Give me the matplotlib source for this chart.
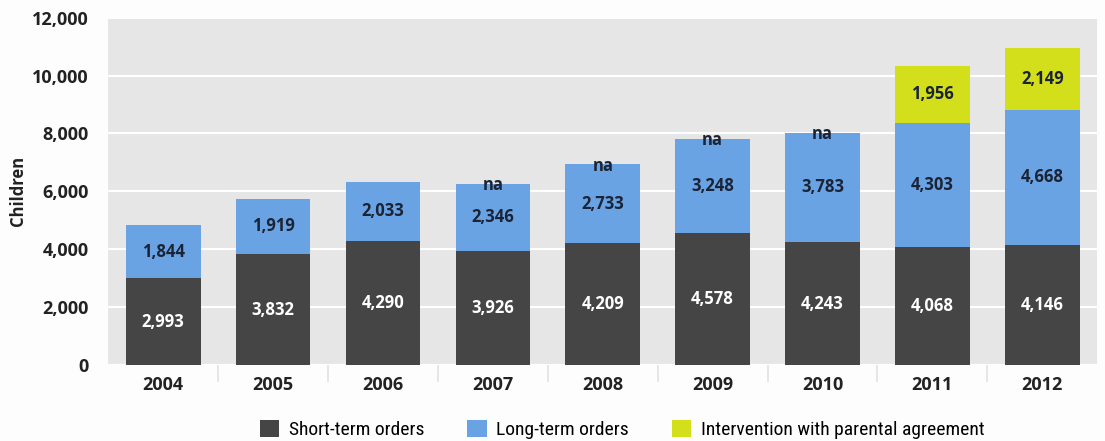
import numpy as np
import matplotlib.pyplot as plt
from matplotlib.ticker import FuncFormatter, FixedLocator

years = ['2004', '2005', '2006', '2007', '2008', '2009', '2010', '2011', '2012']
short_term = [2993, 3832, 4290, 3926, 4209, 4578, 4243, 4068, 4146]
long_term = [1844, 1919, 2033, 2346, 2733, 3248, 3783, 4303, 4668]
# intervention with parental agreement: not available before 2011
parental = [None, None, None, None, None, None, None, 1956, 2149]
na_years = ['2007', '2008', '2009', '2010']

c_short = '#454545'
c_long = '#6aa3e3'
c_par = '#d4df1c'

plt.rcParams['font.family'] = ['Open Sans', 'DejaVu Sans']

fig = plt.figure(figsize=(11.05, 4.41), dpi=100, facecolor='#fdfdfd')
ax = fig.add_axes([0.098, 0.172, 0.895, 0.788])
ax.set_facecolor('#e6e6e6')

x = np.arange(len(years))
w = 0.68
short_arr = np.array(short_term)
long_arr = np.array(long_term)
par_arr = np.array([v if v is not None else 0 for v in parental])

ax.bar(x, short_arr, w, color=c_short, zorder=3, label='Short-term orders')
ax.bar(x, long_arr, w, bottom=short_arr, color=c_long, zorder=3, label='Long-term orders')
ax.bar(x, par_arr, w, bottom=short_arr + long_arr, color=c_par, zorder=3,
       label='Intervention with parental agreement')

for i in range(len(years)):
    ax.text(x[i], short_arr[i] / 2, f'{short_arr[i]:,}', ha='center', va='center',
            color='white', fontsize=12, fontweight='bold', zorder=4)
    ax.text(x[i], short_arr[i] + long_arr[i] / 2, f'{long_arr[i]:,}', ha='center',
            va='center', color='#1b2436', fontsize=12, fontweight='bold', zorder=4)
    top = short_arr[i] + long_arr[i]
    if parental[i] is not None:
        ax.text(x[i], top + par_arr[i] / 2, f'{par_arr[i]:,}', ha='center', va='center',
                color='#1b2436', fontsize=12, fontweight='bold', zorder=4)
    elif years[i] in na_years:
        ax.text(x[i], top - 60, 'na', ha='center', va='center', color='#1b2436',
                fontsize=12, fontweight='bold', zorder=4)

ax.set_xlim(-0.5, len(years) - 0.5)
ax.set_ylim(0, 12000)
ax.set_yticks(range(0, 12001, 2000))
ax.yaxis.set_major_formatter(FuncFormatter(lambda v, p: f'{int(v):,}'))
ax.grid(axis='y', color='white', linewidth=1.5, zorder=1)
ax.set_xticks(x)
ax.set_xticklabels(years)
ax.xaxis.set_minor_locator(FixedLocator(np.arange(0.5, len(years) - 1, 1.0)))
ax.tick_params(axis='x', which='major', length=0, pad=8)
ax.tick_params(axis='x', which='minor', length=12, color='#e2e2e2', width=1.2)
ax.tick_params(axis='y', length=0, pad=14)
for lbl in ax.get_xticklabels() + ax.get_yticklabels():
    lbl.set_fontsize(13)
    lbl.set_fontweight('bold')
    lbl.set_color('#222222')
for s in ax.spines.values():
    s.set_visible(False)

ax.set_ylabel('Children', fontsize=12, fontweight='bold', color='#222222', labelpad=4)

fig.legend(loc='lower center', bbox_to_anchor=(0.563, -0.035), ncol=3, frameon=False,
           handlelength=1.0, handleheight=1.0, handletextpad=0.5, columnspacing=2.2,
           prop={'family': ['Liberation Sans Narrow', 'Roboto Condensed', 'Roboto', 'DejaVu Sans'],
                 'size': 14})

fig.savefig('out.png', dpi=100, facecolor=fig.get_facecolor())
